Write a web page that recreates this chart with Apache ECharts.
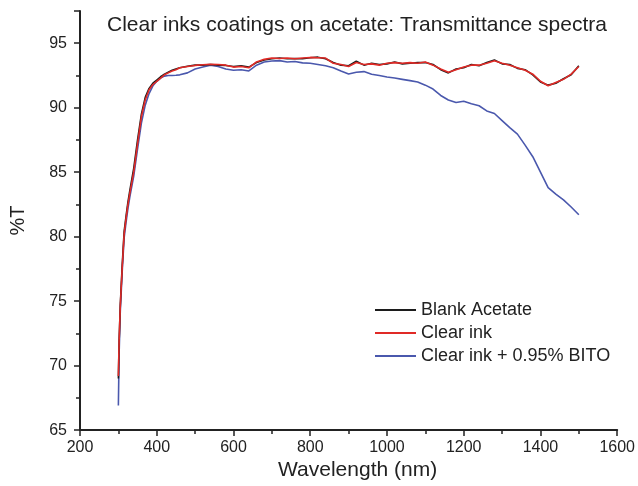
<!DOCTYPE html>
<html lang="en">
<head>
    <meta charset="UTF-8">
    <title>Transmittance spectra</title>
    <script src="https://cdn.jsdelivr.net/npm/echarts@6.0.0/dist/echarts.min.js"></script>
    <style>
        html, body { margin: 0; padding: 0; background: #fff; }
        #chart { width: 638px; height: 486px; }
    </style>
</head>
<body>
    <div id="chart"></div>
    <script>
        // wavelength (nm) shared by all three spectra
        const wavelength = [
            300, 302, 305, 310, 315, 320, 325, 330, 340, 350, 360, 370, 380, 390, 400, 410, 420, 430, 440, 450, 460,
            480, 500, 520, 540, 560, 580, 600, 620, 640, 660, 680, 700, 720, 740, 760, 780, 800, 820, 840, 860,
            880, 900, 920, 940, 960, 980, 1000, 1020, 1040, 1060, 1080, 1100, 1120, 1140, 1160, 1180, 1200, 1220, 1240, 1260,
            1280, 1300, 1320, 1340, 1360, 1380, 1400, 1420, 1440, 1460, 1480, 1500
        ];

        // %T values
        const blankAcetate = [
            69.0, 71.9, 74.7, 77.8, 80.4, 81.6, 82.7, 83.6, 85.3, 87.5, 89.5, 90.8, 91.5, 91.9, 92.15, 92.4, 92.6, 92.75, 92.9, 93.0, 93.1,
            93.22, 93.3, 93.3, 93.35, 93.3, 93.28, 93.2, 93.25, 93.15, 93.5, 93.7, 93.8, 93.85, 93.8, 93.82, 93.8, 93.88, 93.92, 93.8, 93.5,
            93.3, 93.25, 93.6, 93.3, 93.45, 93.35, 93.4, 93.55, 93.4, 93.45, 93.5, 93.5, 93.35, 92.95, 92.7, 93.0, 93.1, 93.35, 93.25, 93.5,
            93.7, 93.4, 93.35, 93.05, 92.95, 92.55, 92.0, 91.75, 91.9, 92.25, 92.55, 93.25
        ];
        const clearInk = [
            69.2, 72.0, 74.6, 77.6, 80.2, 81.4, 82.5, 83.4, 85.0, 87.2, 89.3, 90.6, 91.4, 91.8, 92.05, 92.3, 92.55, 92.7, 92.85, 92.95, 93.1,
            93.2, 93.28, 93.33, 93.37, 93.35, 93.3, 93.15, 93.2, 93.1, 93.55, 93.75, 93.85, 93.82, 93.85, 93.8, 93.85, 93.9, 93.88, 93.85, 93.45,
            93.35, 93.2, 93.5, 93.35, 93.4, 93.3, 93.45, 93.5, 93.45, 93.5, 93.45, 93.55, 93.3, 93.0, 92.75, 92.95, 93.15, 93.3, 93.3, 93.45,
            93.65, 93.45, 93.3, 93.1, 92.9, 92.6, 92.05, 91.7, 91.95, 92.2, 92.6, 93.2
        ];
        const clearInkBito = [
            66.9, 71.0, 74.2, 77.3, 79.9, 81.1, 82.2, 83.1, 84.7, 86.8, 88.8, 90.2, 91.1, 91.7, 92.05, 92.3, 92.45, 92.5, 92.5, 92.52, 92.55,
            92.7, 93.0, 93.15, 93.3, 93.2, 93.0, 92.9, 92.95, 92.85, 93.3, 93.55, 93.62, 93.65, 93.55, 93.58, 93.48, 93.45, 93.35, 93.25, 93.1,
            92.85, 92.62, 92.75, 92.8, 92.6, 92.5, 92.38, 92.3, 92.2, 92.1, 92.0, 91.75, 91.45, 90.95, 90.6, 90.4, 90.5, 90.3, 90.15, 89.75,
            89.55, 89.0, 88.45, 87.95, 87.1, 86.2, 85.0, 83.8, 83.3, 82.85, 82.3, 81.7
        ];

        const seriesNames = ['Blank Acetate', 'Clear ink', 'Clear ink + 0.95% BITO'];
        const seriesColors = ['#1c1c1c', '#e02a26', '#4a58ad'];

        const font = "'Liberation Sans', Arial, sans-serif";
        const zip = ys => wavelength.map((w, i) => [w, ys[i]]);

        const chart = echarts.init(document.getElementById('chart'), null, { renderer: 'canvas' });

        const makeSeries = (name, ys, color, z) => ({
            name: name,
            type: 'line',
            data: zip(ys),
            showSymbol: false,
            z: z,
            lineStyle: { color: color, width: 1.6 },
            itemStyle: { color: color }
        });

        const option = {
            animation: false,
            backgroundColor: '#fff',
            title: {
                text: 'Clear inks coatings on acetate: Transmittance spectra',
                left: 107,
                top: 15,
                padding: 0,
                textStyle: { fontFamily: font, fontSize: 21, fontWeight: 'normal', color: '#222' }
            },
            legend: {
                orient: 'vertical',
                left: 370,
                top: 296,
                itemWidth: 41,
                itemHeight: 2,
                itemGap: 5,
                icon: 'rect',
                data: seriesNames,
                textStyle: { fontFamily: font, fontSize: 18, color: '#222', lineHeight: 18 }
            },
            grid: { left: 80, right: 19, top: 11, bottom: 50, containLabel: false },
            xAxis: {
                type: 'value',
                min: 200,
                max: 1600,
                interval: 200,
                name: 'Wavelength (nm)',
                nameLocation: 'middle',
                nameGap: 24,
                nameTextStyle: { fontFamily: font, fontSize: 21, color: '#222', padding: [0, 0, 0, 18] },
                axisLine: { onZero: false, lineStyle: { color: '#222', width: 2 } },
                axisTick: { length: 6, lineStyle: { color: '#222', width: 1.5 } },
                minorTick: { show: true, splitNumber: 2, length: 4, lineStyle: { color: '#222', width: 1.5 } },
                axisLabel: { margin: 9, fontFamily: font, fontSize: 16, color: '#222', formatter: v => String(v) },
                splitLine: { show: false }
            },
            yAxis: {
                type: 'value',
                min: 65,
                max: 97.5,
                interval: 5,
                name: '%T',
                nameLocation: 'middle',
                nameGap: 52,
                nameTextStyle: { fontFamily: font, fontSize: 20, color: '#222' },
                axisLine: { show: true, onZero: false, lineStyle: { color: '#222', width: 2 } },
                axisTick: { show: true, length: 6, lineStyle: { color: '#222', width: 1.5 } },
                minorTick: { show: true, splitNumber: 2, length: 4, lineStyle: { color: '#222', width: 1.5 } },
                axisLabel: { margin: 13, fontFamily: font, fontSize: 16, color: '#222', showMaxLabel: false },
                splitLine: { show: false }
            },
            series: [
                makeSeries(seriesNames[0], blankAcetate, seriesColors[0], 3),
                makeSeries(seriesNames[1], clearInk, seriesColors[1], 4),
                makeSeries(seriesNames[2], clearInkBito, seriesColors[2], 2)
            ]
        };

        chart.setOption(option);
    </script>
</body>
</html>
